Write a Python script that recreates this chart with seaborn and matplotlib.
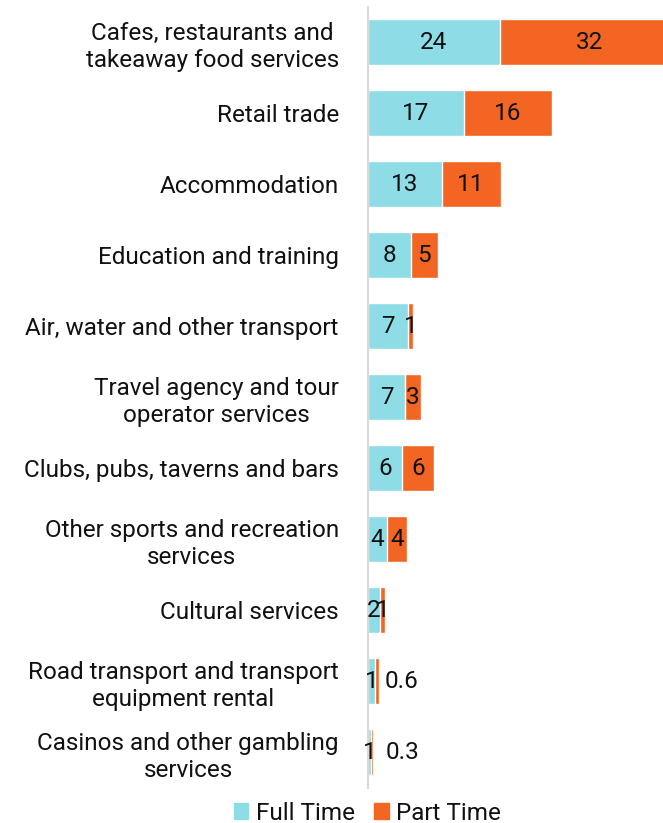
"""
Stacked horizontal bars: full time vs part time jobs by industry.
"""

import pandas as pd
import seaborn as sns
import matplotlib
matplotlib.use('Agg')
import matplotlib.pyplot as plt
from matplotlib.patches import Patch


########  data  ########

INDUSTRIES = [
    'Cafes, restaurants and\ntakeaway food services',
    'Retail trade',
    'Accommodation',
    'Education and training',
    'Air, water and other transport',
    'Travel agency and tour\noperator services',
    'Clubs, pubs, taverns and bars',
    'Other sports and recreation\nservices',
    'Cultural services',
    'Road transport and transport\nequipment rental',
    'Casinos and other gambling\nservices',
]
FULL_TIME = [23.8, 17.3, 13.3, 7.7, 7.2, 6.7, 6.1, 3.5, 2.1, 1.3, 0.6]
PART_TIME = [32.2, 15.9, 10.6, 4.9, 0.9, 2.9, 5.8, 3.6, 1.0, 0.6, 0.3]

########  style  ########

FT_COLOR = '#8EDCE6'
PT_COLOR = '#F26522'
FONT = 'Roboto'
FS = 17.5
TXT = '#111111'

sns.set_style('white')
plt.rcParams['font.family'] = [FONT, 'DejaVu Sans']
plt.rcParams['text.color'] = TXT
plt.rcParams['ytick.color'] = TXT

df = pd.DataFrame(dict(industry=INDUSTRIES, ft=FULL_TIME, pt=PART_TIME))
df['total'] = df['ft'] + df['pt']

fig = plt.figure(figsize=(6.63, 8.23), dpi=100)
ax = fig.add_axes([0.555, 0.043, 0.445, 0.949])

# totals in orange first, full time drawn over them
sns.barplot(data=df, y='industry', x='total', color=PT_COLOR, width=0.65,
            saturation=1, orient='h', ax=ax)
sns.barplot(data=df, y='industry', x='ft', color=FT_COLOR, width=0.65,
            saturation=1, orient='h', ax=ax)

# value labels
for i, row in df.iterrows():
    ax.text(row.ft / 2, i, f'{row.ft:.0f}', ha='center', va='center',
            fontsize=FS, color=TXT)
    if row.pt < 0.75:
        # small part-time values sit outside the bar
        off = 4.2 if row.pt >= 0.5 else 5.4
        ax.text(row.total + off, i, f'{row.pt:.1f}', ha='center',
                va='center', fontsize=FS, color=TXT)
    else:
        ax.text(row.ft + row.pt / 2, i, f'{row.pt:.0f}', ha='center',
                va='center', fontsize=FS, color=TXT)

# aesthetics
ax.set_xlim(0, 53.2)
ax.set_ylim(10.5, -0.5)
ax.set_xlabel('')
ax.set_ylabel('')
ax.set_xticks([])
ax.tick_params(axis='y', length=0, pad=21, labelcolor=TXT)
for lab in ax.get_yticklabels():
    lab.set_fontsize(FS)
    lab.set_multialignment('center')
    lab.set_linespacing(1.25)
for s in ['top', 'right', 'bottom']:
    ax.spines[s].set_visible(False)
ax.spines['left'].set_color('#D9D9D9')
ax.spines['left'].set_linewidth(1.5)

handles = [Patch(color=FT_COLOR, label='Full Time'),
           Patch(color=PT_COLOR, label='Part Time')]
fig.legend(handles=handles, loc='center', bbox_to_anchor=(0.554, 0.012),
           ncol=2, frameon=False, fontsize=FS, handlelength=0.6,
           handleheight=0.6, handletextpad=0.3, columnspacing=0.8,
           borderpad=0.0)

plt.savefig('out.png', dpi=100)
plt.close()
